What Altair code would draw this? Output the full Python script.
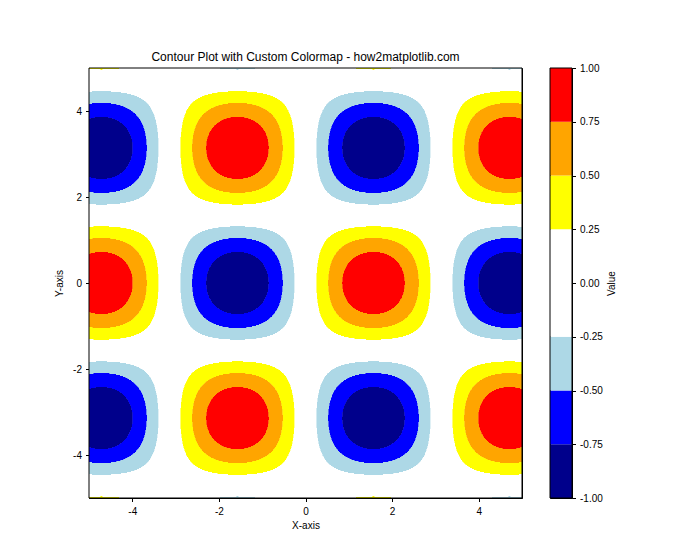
import numpy as np
import pandas as pd
import altair as alt

# contour levels and fill colours (custom colormap)
levels = [-1.0, -0.75, -0.5, -0.25, 0.25, 0.5, 0.75, 1.0]
colors = ["#00008B", "#0000FF", "#ADD8E6", "#FFFFFF", "#FFFF00", "#FFA500", "#FF0000"]
axis_ticks = [-4, -2, 0, 2, 4]
cbar_ticks = [-1.0, -0.75, -0.5, -0.25, 0.0, 0.25, 0.5, 0.75, 1.0]
x_range = [-5, 5]
y_range = [-5, 5]

W, H, CBW = 433, 430, 22
FONT = "Liberation Sans"
MINUS_FIX = "replace(datum.label, '\u2212', '-')"

# surface Z = sin(X) * cos(Y) sampled on a fine grid
nx, ny = 866, 430
xe = np.linspace(x_range[0], x_range[1], nx + 1)
ye = np.linspace(y_range[0], y_range[1], ny + 1)
xc = (xe[:-1] + xe[1:]) / 2
yc = (ye[:-1] + ye[1:]) / 2
X, Y = np.meshgrid(xc, yc)
Z = np.sin(X) * np.cos(Y)
band = np.digitize(Z, levels[1:-1])

dx = xe[1] - xe[0]
dy = ye[1] - ye[0]
rows = []
for j in range(ny):
    r = band[j]
    starts = np.concatenate([[0], np.nonzero(np.diff(r))[0] + 1])
    ends = np.concatenate([starts[1:], [nx]])
    for s, e in zip(starts, ends):
        rows.append({
            "x": xe[s], "x2": min(xe[e] + 0.4 * dx, x_range[1]),
            "y": ye[j], "y2": min(ye[j + 1] + 0.4 * dy, y_range[1]),
            "c": colors[r[s]],
        })
df = pd.DataFrame(rows)

fills = alt.Chart(df).mark_rect(clip=True, strokeWidth=0).encode(
    x=alt.X("x:Q", scale=alt.Scale(domain=x_range, nice=False, zero=False),
            axis=alt.Axis(values=axis_ticks, title="X-axis", grid=False, format="d",
                          labelExpr=MINUS_FIX,
                          tickSize=3.5, labelPadding=5, titlePadding=4)),
    x2="x2:Q",
    y=alt.Y("y:Q", scale=alt.Scale(domain=y_range, nice=False, zero=False),
            axis=alt.Axis(values=axis_ticks, title="Y-axis", grid=False, format="d",
                          labelExpr=MINUS_FIX,
                          tickSize=3.5, labelPadding=4, titlePadding=8)),
    y2="y2:Q",
    color=alt.Color("c:N", scale=None),
)
frame = alt.Chart(pd.DataFrame({"k": [0]})).mark_rect(
    filled=False, stroke="black", strokeWidth=1
).encode(x=alt.value(0), x2=alt.value(W), y=alt.value(0), y2=alt.value(H))

main = alt.layer(fills, frame).properties(
    width=W, height=H,
    title=alt.Title("Contour Plot with Custom Colormap - how2matplotlib.com",
                    fontSize=12, fontWeight="normal", offset=4),
)

cb_df = pd.DataFrame({
    "lo": levels[:-1], "hi": levels[1:], "c": colors,
})
cb_fill = alt.Chart(cb_df).mark_rect(strokeWidth=0).encode(
    x=alt.value(0), x2=alt.value(CBW),
    y=alt.Y("lo:Q", scale=alt.Scale(domain=[-1, 1], nice=False, zero=False),
            axis=alt.Axis(orient="right", values=cbar_ticks, format=".2f", title="Value",
                          labelExpr=MINUS_FIX,
                          titleAngle=270, titleX=39, titleY=H / 2,
                          titleAlign="center", titleBaseline="middle",
                          grid=False, tickSize=3.5, labelPadding=4)),
    y2="hi:Q",
    color=alt.Color("c:N", scale=None),
)
cb_frame = alt.Chart(pd.DataFrame({"k": [0]})).mark_rect(
    filled=False, stroke="black", strokeWidth=1
).encode(x=alt.value(0), x2=alt.value(CBW), y=alt.value(0), y2=alt.value(H))
cbar = alt.layer(cb_fill, cb_frame).properties(width=CBW, height=H)

chart = alt.hconcat(main, cbar, spacing=26).properties(
    padding={"left": 54, "top": 50, "right": 10, "bottom": 10}
).configure_view(stroke="black", strokeWidth=1).configure_axis(
    labelFont=FONT, titleFont=FONT, labelFontSize=10, titleFontSize=10,
    labelColor="black", titleColor="black", tickColor="black", domainColor="black",
    titleFontWeight="normal", zindex=1,
).configure_title(font=FONT, color="black")

chart.save("out.html", embed_options={"renderer": "svg", "actions": False})
